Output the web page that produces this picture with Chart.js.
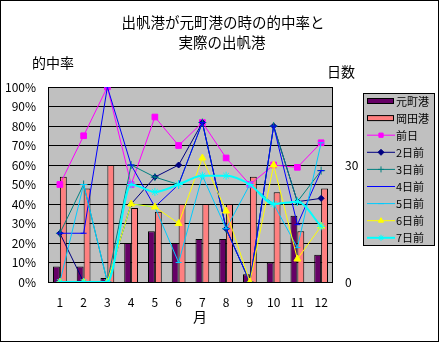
<!DOCTYPE html>
<html>
<head>
<meta charset="utf-8">
<script src="https://cdn.jsdelivr.net/npm/chart.js@4"></script>
<style>
  html, body { margin: 0; padding: 0; background: #fff; }
</style>
</head>
<body>
<canvas id="myChart" width="439" height="342"></canvas>
<script>
//! Les labels (mois).
const months = ['1', '2', '3', '4', '5', '6', '7', '8', '9', '10', '11', '12'];

//! Jours de départ réels (axe de droite).
const motomachiDays = [4, 4, 1, 10, 13, 10, 11, 11, 2, 5, 17, 7];
const okataDays = [27, 24, 30, 19, 18, 20, 20, 20, 27, 23, 13, 24];

//! Taux de réussite en % (axe de gauche).
const hitDay1 = [50, 75, 100, 50, 84.6, 70, 81.8, 63.6, 50, 60, 58.8, 71.4];
const hitDay2 = [25, 0, 0, 40, 53.8, 60, 81.8, 27.3, 0, 80, 41.2, 42.9];
const hitDay3 = [25, 50, 0, 60, 53.8, 50, 81.8, 27.3, 0, 80, 41.2, 57.1];
const hitDay4 = [25, 25, 100, 60, 38.5, 50, 81.8, 27.3, 0, 80, 29.4, 57.1];
const hitDay5 = [0, 50, 0, 40, 38.5, 10, 54.5, 27.3, 50, 40, 17.6, 71.4];
const hitDay6 = [0, 0, 0, 40, 38.5, 30, 63.6, 36.4, 0, 60, 11.8, 28.6];
const hitDay7 = [0, 0, 0, 50, 46.2, 50, 54.5, 54.5, 50, 40, 41.2, 28.6];

//! Ticks.
const pctTicks = [0, 10, 20, 30, 40, 50, 60, 70, 80, 90, 100];
const dayTicks = [0, 30];
//! ---------------------------------

const JP = "'Noto Sans CJK JP', 'Noto Sans', sans-serif";
Chart.defaults.font.family = JP;
Chart.defaults.color = '#000';

const ctx = document.getElementById('myChart').getContext('2d');

function lineSet(label, data, color, style, radius, width, order, smooth) {
  return {
    type: 'line',
    label,
    data,
    yAxisID: 'y',
    borderColor: color,
    backgroundColor: color,
    borderWidth: width,
    pointStyle: style,
    pointRadius: radius,
    pointBorderColor: color,
    pointBackgroundColor: color,
    pointBorderWidth: 1,
    cubicInterpolationMode: smooth ? 'monotone' : 'default',
    tension: 0,
    order,
  };
}

//! Les datas.
const data = {
  labels: months,
  datasets: [
    {
      type: 'bar',
      label: '元町港',
      data: motomachiDays,
      yAxisID: 'y2',
      backgroundColor: '#660066',
      borderColor: '#000',
      borderWidth: 1,
      barPercentage: 1,
      categoryPercentage: 0.58,
      order: 20,
    },
    {
      type: 'bar',
      label: '岡田港',
      data: okataDays,
      yAxisID: 'y2',
      backgroundColor: '#FF8080',
      borderColor: '#000',
      borderWidth: 1,
      barPercentage: 1,
      categoryPercentage: 0.58,
      order: 20,
    },
    lineSet('前日', hitDay1, '#FF00FF', 'rect', 4, 1, 7),
    lineSet('2日前', hitDay2, '#000080', 'rectRot', 3, 1, 6),
    lineSet('3日前', hitDay3, '#008080', 'cross', 4, 1, 5),
    lineSet('4日前', hitDay4, '#0000FF', 'line', 3, 1, 4),
    lineSet('5日前', hitDay5, '#00CCFF', 'line', 3, 1, 3),
    lineSet('6日前', hitDay6, '#FFFF00', 'triangle', 4, 1, 2),
    lineSet('7日前', hitDay7, '#00FFFF', 'star', 4, 2, 1, true),
  ],
};
//! ---------------------------------

//! Fond gris, cadre, titres et légende dessinés à la main.
const decor = {
  id: 'decor',
  beforeDraw(chart) {
    const c = chart.ctx;
    const a = chart.chartArea;
    c.save();
    c.fillStyle = '#fff';
    c.fillRect(0, 0, chart.width, chart.height);
    c.fillStyle = '#C0C0C0';
    c.fillRect(a.left, a.top, a.right - a.left, a.bottom - a.top);
    c.restore();
  },
  beforeDatasetsDraw(chart) {
    const c = chart.ctx;
    const a = chart.chartArea;
    c.save();
    c.strokeStyle = '#000';
    c.lineWidth = 1;
    c.strokeRect(Math.round(a.left) + 0.5, Math.round(a.top) + 0.5,
      Math.round(a.right - a.left) - 1, Math.round(a.bottom - a.top));
    c.restore();
  },
  afterDraw(chart) {
    const c = chart.ctx;
    c.save();
    // cadre extérieur
    c.strokeStyle = '#000';
    c.lineWidth = 1;
    c.strokeRect(0.5, 0.5, chart.width - 1, chart.height - 1);

    // titres
    c.fillStyle = '#000';
    c.textAlign = 'center';
    c.textBaseline = 'middle';
    c.font = '14.5px ' + JP;
    c.fillText('出帆港が元町港の時の的中率と', 223, 22);
    c.fillText('実際の出帆港', 222, 42);
    c.font = '14px ' + JP;
    c.fillText('的中率', 53, 63);
    c.fillText('日数', 341, 72);
    c.fillText('月', 200, 317);

    // légende
    const lx = 363, ly = 93, lw = 71, lh = 152;
    c.fillStyle = '#C0C0C0';
    c.fillRect(lx, ly, lw, lh);
    c.strokeRect(lx + 0.5, ly + 0.5, lw, lh);
    c.font = '11px ' + JP;
    c.textAlign = 'left';
    chart.data.datasets.forEach((ds, i) => {
      const y = 101 + i * 17.1;
      if (ds.type === 'bar') {
        c.fillStyle = ds.backgroundColor;
        c.fillRect(367, y - 2.5, 26, 5);
        c.strokeStyle = '#000';
        c.strokeRect(367.5, y - 2.5, 26, 5);
      } else {
        c.strokeStyle = ds.borderColor;
        c.lineWidth = ds.borderWidth;
        c.beginPath();
        c.moveTo(367, y);
        c.lineTo(395, y);
        c.stroke();
        c.lineWidth = 1;
        if (Chart.helpers && Chart.helpers.drawPoint) {
          c.fillStyle = ds.pointBackgroundColor;
          c.strokeStyle = ds.pointBorderColor;
          Chart.helpers.drawPoint(c, {
            pointStyle: ds.pointStyle,
            radius: Math.min(ds.pointRadius, 3),
            rotation: 0,
            borderWidth: 1,
          }, 381, y);
        }
      }
      c.fillStyle = '#000';
      c.fillText(ds.label, 396, y + 0.5);
    });
    c.restore();
  },
};

//! Les options.
const options = {
  responsive: false,
  animation: false,
  layout: { padding: { left: 0, top: 87, right: 0, bottom: 0 } },
  plugins: {
    legend: { display: false },
    title: { display: false },
    tooltip: { enabled: false },
  },
  scales: {
    x: {
      type: 'category',
      offset: true,
      grid: { display: false },
      border: { display: false },
      ticks: { padding: 5, font: { size: 12 }, maxRotation: 0, autoSkip: false },
      afterFit: (s) => { s.height = 60; },
    },
    y: {
      position: 'left',
      min: 0,
      max: 100,
      afterBuildTicks: (s) => { s.ticks = pctTicks.map((v) => ({ value: v })); },
      ticks: {
        padding: 12,
        font: { size: 12 },
        callback: (v) => v + '%',
      },
      grid: { color: '#000', drawTicks: false, lineWidth: 1 },
      border: { display: false },
      afterFit: (s) => { s.width = 48; },
    },
    y2: {
      position: 'right',
      min: 0,
      max: 50,
      afterBuildTicks: (s) => { s.ticks = dayTicks.map((v) => ({ value: v })); },
      ticks: { padding: 12, font: { size: 12 } },
      grid: { display: false, drawTicks: false },
      border: { display: false },
      afterFit: (s) => { s.width = 106; },
    },
  },
};
//! ---------------------------------

//! La configuration du graphique.
const config = {
  type: 'bar',
  data,
  options,
  plugins: [decor],
};

const myChart = new Chart(ctx, config);
</script>
</body>
</html>
